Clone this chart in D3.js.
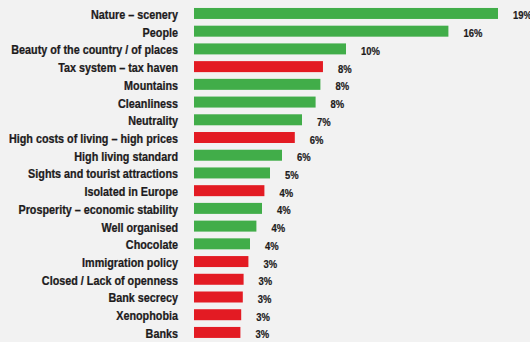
<!DOCTYPE html>
<html>
<head>
<meta charset="utf-8">
<script src="https://cdn.jsdelivr.net/npm/d3@7"></script>
<style>
  body { margin: 0; background: #f2f2f2; }
</style>
</head>
<body>
<div id="container"></div>
<script>
/* CONSTANTS AND GLOBALS */
const width = 530;
const height = 342;

const categories = [
  "Nature – scenery", "People", "Beauty of the country / of places",
  "Tax system – tax haven", "Mountains", "Cleanliness", "Neutrality",
  "High costs of living – high prices", "High living standard",
  "Sights and tourist attractions", "Isolated in Europe",
  "Prosperity – economic stability", "Well organised", "Chocolate",
  "Immigration policy", "Closed / Lack of openness", "Bank secrecy",
  "Xenophobia", "Banks"
];
const values = [19.0, 15.9, 9.5, 8.06, 7.9, 7.6, 6.75, 6.3, 5.5, 4.75, 4.4, 4.25, 3.9, 3.5, 3.4, 3.1, 3.05, 2.95, 2.9];
const valueLabels = ["19%", "16%", "10%", "8%", "8%", "8%", "7%", "6%", "6%", "5%", "4%", "4%", "4%", "4%", "3%", "3%", "3%", "3%", "3%"];
const negative = [false, false, false, true, false, false, false, true, false, false, true, false, false, false, true, true, true, true, true];

const data = categories.map((c, i) => ({
  name: c, value: values[i], label: valueLabels[i], neg: negative[i]
}));

const font = "'Liberation Sans', Arial, sans-serif";
const squeeze = 0.9; // condensed look

/* SCALES */
const xScale = d3.scaleLinear()
  .domain([0, 19])
  .range([194, 498]);

const yScale = d3.scaleBand()
  .domain(categories)
  .range([4.6, 341.3])
  .paddingInner(0.38)
  .paddingOuter(0.19);

/* SVG */
const svg = d3.select("#container")
  .append("svg")
  .attr("width", width)
  .attr("height", height)
  .style("background-color", "#f2f2f2");

// bars
svg.selectAll(".bar")
  .data(data)
  .join("rect")
  .attr("class", "bar")
  .attr("x", xScale(0))
  .attr("y", d => yScale(d.name))
  .attr("width", d => xScale(d.value) - xScale(0))
  .attr("height", yScale.bandwidth())
  .attr("fill", d => d.neg ? "#e31b23" : "#41ad49");

// category labels (squeezed horizontally around their right edge)
svg.selectAll(".cat")
  .data(data)
  .join("text")
  .attr("class", "cat")
  .attr("transform", d => `translate(178, ${yScale(d.name) + yScale.bandwidth()}) scale(${squeeze}, 1)`)
  .attr("text-anchor", "end")
  .style("font-family", font)
  .style("font-weight", "bold")
  .style("font-size", "12px")
  .attr("fill", "#1d1b1c")
  .attr("stroke", "#1d1b1c")
  .attr("stroke-width", 0.25)
  .text(d => d.name);

// value labels
svg.selectAll(".val")
  .data(data)
  .join("text")
  .attr("class", "val")
  .attr("transform", d => `translate(${xScale(d.value) + 15}, ${yScale(d.name) + yScale.bandwidth() + 0.5}) scale(${squeeze}, 1)`)
  .style("font-family", font)
  .style("font-weight", "bold")
  .style("font-size", "10.5px")
  .attr("fill", "#1d1b1c")
  .attr("stroke", "#1d1b1c")
  .attr("stroke-width", 0.2)
  .text(d => d.label);
</script>
</body>
</html>
